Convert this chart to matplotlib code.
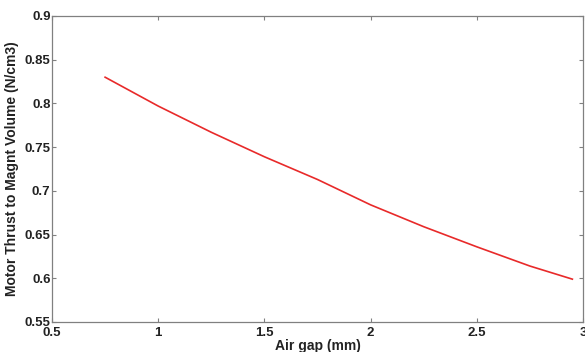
import matplotlib
matplotlib.use("Agg")
import matplotlib.pyplot as plt

air_gap = [0.75, 1.0, 1.25, 1.5, 1.75, 2.0, 2.25, 2.5, 2.75, 2.95]
thrust_ratio = [0.830, 0.797, 0.767, 0.739, 0.713, 0.684, 0.659, 0.636, 0.614, 0.599]
xticks = [0.5, 1, 1.5, 2, 2.5, 3]
xtick_labels = ["0.5", "1", "1.5", "2", "2.5", "3"]
yticks = [0.55, 0.6, 0.65, 0.7, 0.75, 0.8, 0.85, 0.9]
ytick_labels = ["0.55", "0.6", "0.65", "0.7", "0.75", "0.8", "0.85", "0.9"]

plt.rcParams['font.family'] = ['Liberation Sans', 'DejaVu Sans']

fig = plt.figure(figsize=(5.85, 3.52), dpi=100)
ax = fig.add_axes([52/585, 1-322/352, (583-52)/585, (322-16)/352])

ax.plot(air_gap, thrust_ratio, color='#e82a2a', lw=1.2)

ax.set_xlim(0.5, 3)
ax.set_ylim(0.55, 0.9)
ax.set_xticks(xticks)
ax.set_xticklabels(xtick_labels)
ax.set_yticks(yticks)
ax.set_yticklabels(ytick_labels)

for s in ax.spines.values():
    s.set_color('#808080')
    s.set_linewidth(0.9)

ax.tick_params(direction='in', length=3, width=0.8, color='#808080',
               top=True, right=True, labelsize=9.5, labelcolor='#222222')
ax.tick_params(axis='x', pad=3.5)
ax.tick_params(axis='y', pad=1)
for lab in ax.get_xticklabels() + ax.get_yticklabels():
    lab.set_fontweight('bold')

ax.set_xlabel('Air gap (mm)', fontsize=10, fontweight='bold', color='#222222', labelpad=0)
ax.set_ylabel('Motor Thrust to Magnt Volume (N/cm3)', fontsize=10, fontweight='bold',
              color='#222222', labelpad=4)

fig.savefig('out.png', dpi=100)
